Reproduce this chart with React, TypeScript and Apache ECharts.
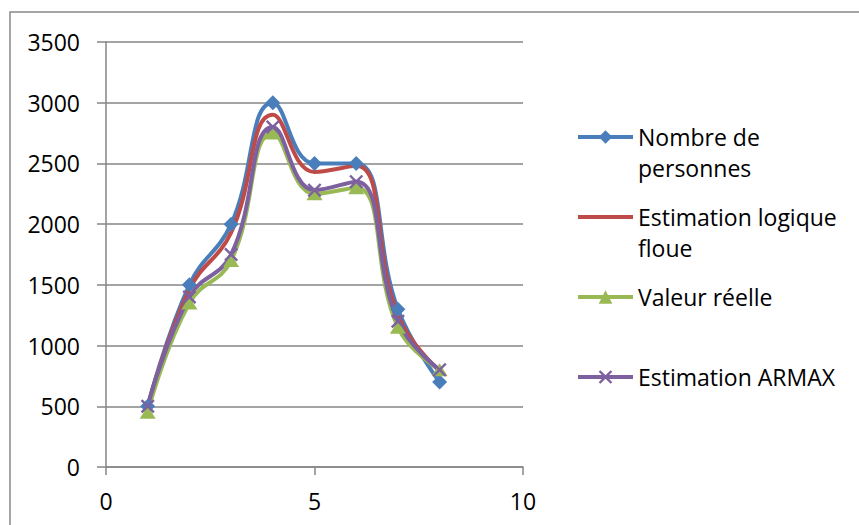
import React, { useEffect, useRef } from "react";
import * as echarts from "echarts";

const xValues = [1, 2, 3, 4, 5, 6, 7, 8];
const nombrePersonnes = [500, 1500, 2000, 3000, 2500, 2500, 1300, 700];
const estimationLogique = [500, 1460, 1930, 2900, 2430, 2480, 1250, 790];
const valeurReelle = [450, 1350, 1700, 2750, 2250, 2300, 1150, 800];
const estimationArmax = [500, 1400, 1750, 2800, 2280, 2350, 1200, 800];

const seriesNames = [
  "Nombre de personnes",
  "Estimation logique floue",
  "Valeur réelle",
  "Estimation ARMAX",
];
const legendLabels: Record<string, string> = {
  "Nombre de personnes": "\nNombre de\npersonnes",
  "Estimation logique floue": "\nEstimation logique\nfloue",
  "Valeur réelle": "Valeur réelle",
  "Estimation ARMAX": "Estimation ARMAX",
};
const legendTops = [90.5, 170.5, 281.5, 361.5];

const colors = ["#4A7EBB", "#BE4B48", "#98B954", "#7D60A0"];
const FONT = "'Open Sans', sans-serif";
const X_SYMBOL =
  "path://M0,1.2 L1.2,0 L5,3.8 L8.8,0 L10,1.2 L6.2,5 L10,8.8 L8.8,10 L5,6.2 L1.2,10 L0,8.8 L3.8,5 Z";

function pairs(ys: number[]) {
  return xValues.map((x, i) => [x, ys[i]]);
}

export default function App() {
  const ref = useRef<HTMLDivElement>(null);
  useEffect(() => {
    if (!ref.current) return;
    const chart = echarts.init(ref.current, undefined, { renderer: "svg" });
    const textStyle = { fontFamily: FONT, fontSize: 23, color: "#000" };
    const legends = seriesNames.map((n, i) => ({
      data: [n],
      left: 576,
      top: legendTops[i],
      padding: 0,
      orient: "vertical",
      itemWidth: 55,
      itemHeight: 17,
      itemGap: 5,
      selectedMode: false,
      itemStyle:
        i === 1
          ? { color: colors[i], opacity: 0 }
          : { color: colors[i], borderColor: colors[i], borderWidth: 0 },
      lineStyle: { color: colors[i], width: 4 },
      formatter: (name: string) => legendLabels[name],
      textStyle: { ...textStyle, lineHeight: 31 },
    }));
    const lineCommon = {
      type: "line",
      smooth: 0.45,
      z: 3,
    };
    chart.setOption({
      animation: false,
      backgroundColor: "#fff",
      grid: { left: 106, right: 336, top: 42, bottom: 58 },
      legend: legends,
      graphic: [
        {
          type: "rect",
          shape: { x: 10, y: 12, width: 870, height: 540 },
          style: { fill: "none", stroke: "#888", lineWidth: 1.5 },
          silent: true,
        },
      ],
      xAxis: {
        type: "value",
        min: 0,
        max: 10,
        interval: 5,
        axisLine: { show: true, lineStyle: { color: "#868686", width: 1.5 } },
        axisTick: { show: true, length: 8, lineStyle: { color: "#868686", width: 1.5 } },
        splitLine: { show: false },
        axisLabel: { ...textStyle, margin: 22, formatter: (v: number) => String(v) },
      },
      yAxis: {
        type: "value",
        min: 0,
        max: 3500,
        interval: 500,
        axisLine: { show: true, lineStyle: { color: "#868686", width: 1.5 } },
        axisTick: { show: true, length: 9, lineStyle: { color: "#868686", width: 1.5 } },
        splitLine: { show: true, lineStyle: { color: "#868686", width: 1.5 } },
        axisLabel: { ...textStyle, margin: 26, formatter: (v: number) => String(v) },
      },
      series: [
        {
          ...lineCommon,
          name: seriesNames[0],
          data: pairs(nombrePersonnes),
          symbol: "diamond",
          symbolSize: 15,
          lineStyle: { color: colors[0], width: 4 },
          itemStyle: { color: colors[0] },
        },
        {
          ...lineCommon,
          name: seriesNames[1],
          data: pairs(estimationLogique),
          symbol: "none",
          showSymbol: false,
          lineStyle: { color: colors[1], width: 4 },
          itemStyle: { color: colors[1] },
        },
        {
          ...lineCommon,
          name: seriesNames[2],
          data: pairs(valeurReelle),
          symbol: "triangle",
          symbolSize: [16, 13],
          lineStyle: { color: colors[2], width: 4 },
          itemStyle: { color: colors[2] },
        },
        {
          ...lineCommon,
          name: seriesNames[3],
          data: pairs(estimationArmax),
          symbol: X_SYMBOL,
          symbolSize: 14,
          lineStyle: { color: colors[3], width: 4 },
          itemStyle: { color: colors[3] },
        },
      ],
    });
    return () => chart.dispose();
  }, []);
  return (
    <div
      ref={ref}
      style={{ position: "fixed", left: 0, top: 0, width: 859, height: 525 }}
    />
  );
}
